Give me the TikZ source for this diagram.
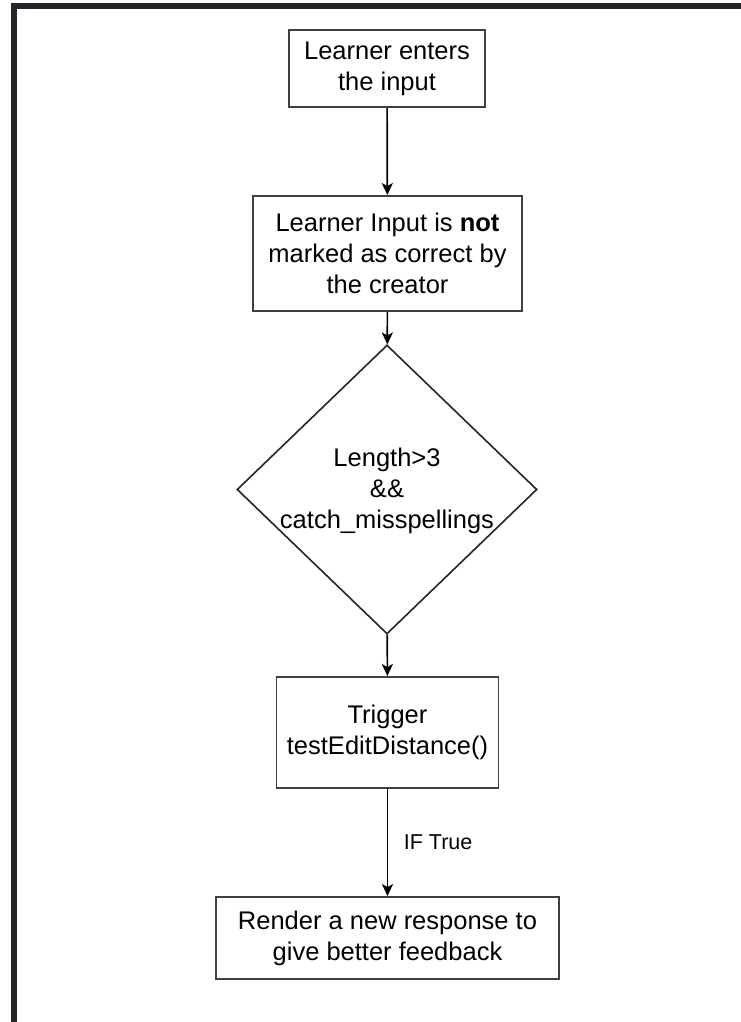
\documentclass[tikz,border=0pt]{standalone}
\usepackage{fontspec}
\setmainfont{Liberation Sans}
\usetikzlibrary{shapes.geometric,arrows.meta}
\definecolor{framecol}{HTML}{24282C}
\definecolor{boxline}{HTML}{404040}
\begin{document}
\begin{tikzpicture}[x=1pt,y=-1pt,
  box/.style={draw=boxline,line width=1.9pt,fill=white,align=center,inner sep=0pt,
    font=\fontsize{25.5}{31}\selectfont},
  dia/.style={draw=black!85,line width=1.6pt,shape=diamond,inner sep=0pt,
    minimum width=300pt,minimum height=289pt},
  txt/.style={align=center,inner sep=0pt,font=\fontsize{25.5}{31}\selectfont},
  arr/.style={draw=black,line width=1.7pt,-{Stealth[length=12pt,width=11pt,inset=3pt]}}
]
\useasboundingbox (0,0) rectangle (741,1022);
\fill[white] (0,0) rectangle (741,1022);
\fill[framecol] (11,3) rectangle (741,9);
\fill[framecol] (11,3) rectangle (17,1022);

\node[box,minimum width=196pt,minimum height=77pt] (b1) at (387,68.5) {Learner enters\\the input};
\node[box,minimum width=269pt,minimum height=115pt] (b2) at (387.5,253.5)
  {Learner Input is \textbf{not}\\marked as correct by\\the creator};
\node[dia] (d) at (387,489.5) {};
\node[txt] (dt) at (387,491) {Length>3\\\&\&\\catch\_misspellings};
\node[box,minimum width=222pt,minimum height=111pt] (b3) at (387.5,732.5)
  {Trigger\\testEditDistance()};
\node[box,minimum width=343pt,minimum height=82pt] (b4) at (387.5,938)
  {Render a new response to\\give better feedback};

\draw[arr] (b1) -- (b2);
\draw[arr] (b2) -- (d);
\draw[arr] (d) -- (b3);
\draw[arr] (b3) -- node[anchor=west,inner sep=0pt,xshift=15.5pt,
  font=\fontsize{21.5}{26}\selectfont] (lbl) {IF True} (b4);
\end{tikzpicture}
\end{document}
